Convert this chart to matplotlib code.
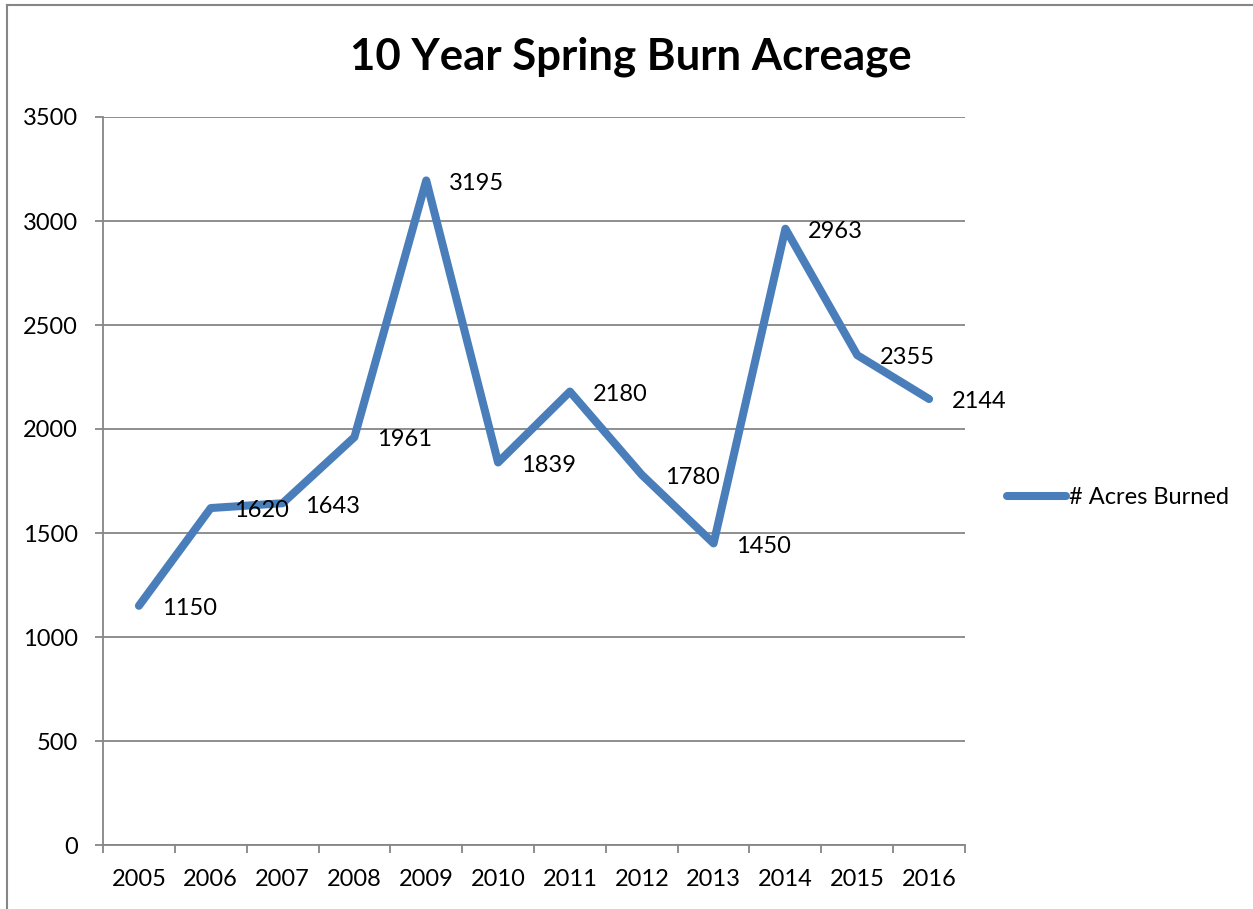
"""Excel-style line chart: 10 year spring burn acreage."""

import matplotlib
matplotlib.use('Agg')
import matplotlib.pyplot as plt
from matplotlib.lines import Line2D

# Data
YEARS = ["2005", "2006", "2007", "2008", "2009", "2010",
         "2011", "2012", "2013", "2014", "2015", "2016"]
ACRES = [1150, 1620, 1643, 1961, 3195, 1839, 2180, 1780, 1450, 2963, 2355, 2144]
Y_TICKS = [0, 500, 1000, 1500, 2000, 2500, 3000, 3500]

LINE_COLOR = "#4A7EBB"
GRID_COLOR = "#868686"
FONT = "Lato"
FS = 17

fig = plt.figure(figsize=(12.53, 9.09), dpi=100)
ax = fig.add_axes([103 / 1253, 1 - 845 / 909, (965 - 103) / 1253, (845 - 117) / 909])

x = list(range(len(YEARS)))
ax.plot(x, ACRES, color=LINE_COLOR, linewidth=5.8, solid_capstyle='round',
        solid_joinstyle='round', zorder=3)

# Data labels to the right of each point
for xi, v in zip(x, ACRES):
    ax.annotate(str(v), (xi, v), xytext=(16.5, -2), textcoords='offset points',
                ha='left', va='center', fontsize=FS, family=FONT, zorder=4)

ax.set_xlim(-0.5, len(YEARS) - 0.5)
ax.set_ylim(0, 3500)

# y axis with gridlines
ax.set_yticks(Y_TICKS)
ax.set_yticklabels([str(t) for t in Y_TICKS], fontsize=FS, family=FONT)
ax.grid(axis='y', color=GRID_COLOR, linewidth=1.3, zorder=0)
ax.tick_params(axis='y', length=6, width=1.3, color=GRID_COLOR, pad=12)

# x axis: ticks at category borders, labels at centers
ax.set_xticks([i - 0.5 for i in range(len(YEARS) + 1)])
ax.set_xticklabels([])
ax.set_xticks(x, minor=True)
ax.set_xticklabels(YEARS, minor=True, fontsize=FS, family=FONT)
ax.tick_params(axis='x', which='major', length=6, width=1.3, color=GRID_COLOR)
ax.tick_params(axis='x', which='minor', length=0, pad=17)

for side in ['top', 'right']:
    ax.spines[side].set_visible(False)
for side in ['left', 'bottom']:
    ax.spines[side].set_color(GRID_COLOR)
    ax.spines[side].set_linewidth(1.3)

fig.text(631 / 1253, 1 - 57 / 909, "10 Year Spring Burn Acreage", ha='center',
         va='center', fontsize=31.5, fontweight='bold', family=FONT)

# Legend
handle = Line2D([], [], color=LINE_COLOR, linewidth=5.8, solid_capstyle='round')
fig.legend([handle], ["# Acres Burned"], loc='center left',
           bbox_to_anchor=(998 / 1253, 1 - 498 / 909), frameon=False,
           prop={'family': FONT, 'size': FS}, handlelength=2.5, handletextpad=0.1,
           borderaxespad=0)

# Chart border (left and top edges visible)
fig.add_artist(Line2D([7 / 1253, 7 / 1253], [0, 1 - 5 / 909], color=GRID_COLOR,
                      linewidth=1.5, transform=fig.transFigure))
fig.add_artist(Line2D([7 / 1253, 1], [1 - 5 / 909, 1 - 5 / 909], color=GRID_COLOR,
                      linewidth=1.5, transform=fig.transFigure))

fig.savefig("out.png", dpi=100)
